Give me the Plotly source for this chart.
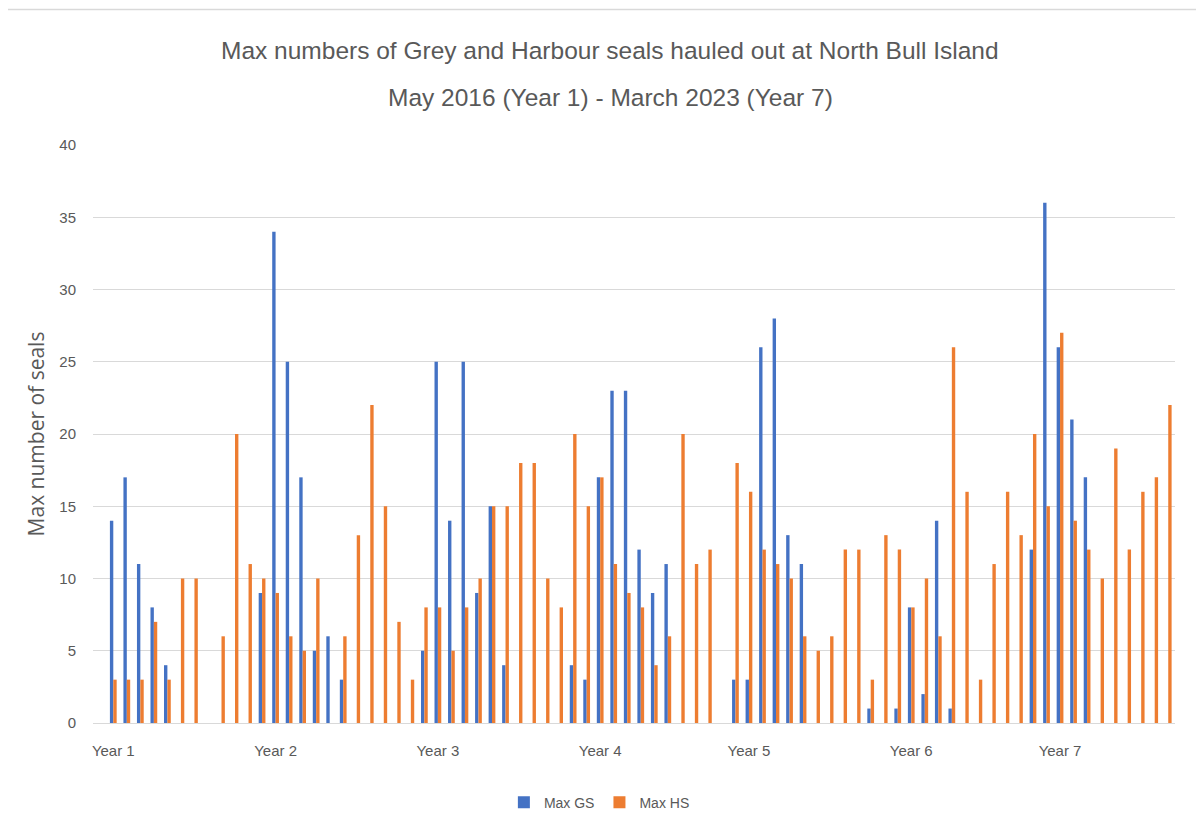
import plotly.graph_objects as go

# 80 monthly slots (first slot empty), May 2016 .. March 2023
slots = list(range(80))

max_gs = [None,
          14, 17, 11, 8, 4, None, None, None, None, None, None, 9,
          34, 25, 17, 5, 6, 3, None, None, None, None, None, 5,
          25, 14, 25, 9, 15, 4, None, None, None, None, 4, 3,
          17, 23, 23, 12, 9, 11, None, None, None, None, 3,
          3, 26, 28, 13, 11, None, None, None, None, 1, None, 1,
          8, 2, 14, 1, None, None, None, None, None, 12,
          36, 26, 21, 17, None, None, None, None, None]

max_hs = [None,
          3, 3, 3, 7, 3, 10, 10, None, 6, 20, 11, 10,
          9, 6, 5, 10, None, 6, 13, 22, 15, 7, 3, 8,
          8, 5, 8, 10, 15, 15, 18, 18, 10, 8, 20, 15,
          17, 11, 9, 8, 4, 6, 20, 11, 12, None, 18,
          16, 12, 11, 10, 6, 5, 6, 12, 12, 3, 13, 12,
          8, 10, 6, 26, 16, 3, 11, 16, 13, 20, 15,
          27, 14, 12, 10, 19, 12, 16, 17, 22]

year_slots = [1, 13, 25, 37, 48, 60, 71]
year_labels = ["Year 1", "Year 2", "Year 3", "Year 4", "Year 5", "Year 6", "Year 7"]

title_lines = ["Max numbers of Grey and Harbour seals hauled out at North Bull Island",
               "May 2016 (Year 1) - March 2023 (Year 7)"]

TXT = "#595959"
GRID = "#D9D9D9"

W, H = 1188, 812
L, R, T, B = 85, 21, 137, 97
plot_w = W - L - R
plot_h = H - T - B

fig = go.Figure()
fig.add_trace(go.Bar(x=slots, y=max_gs, name="Max GS", marker=dict(color="#4472C4", line=dict(width=0))))
fig.add_trace(go.Bar(x=slots, y=max_hs, name="Max HS", marker=dict(color="#ED7D31", line=dict(width=0))))

annotations = []
for line, ypix in zip(title_lines, [42, 89]):
    annotations.append(dict(text=line, xref="paper", yref="paper", x=(602 - L) / plot_w, xanchor="center",
                            y=1 + (T - ypix) / plot_h, yanchor="middle", showarrow=False,
                            font=dict(family="Liberation Sans, Arial", size=24.5, color=TXT)))

fig.update_layout(
    width=W, height=H,
    paper_bgcolor="white", plot_bgcolor="white",
    margin=dict(l=L, r=R, t=T, b=B, autoexpand=False),
    barmode="group", bargap=0.5, bargroupgap=0,
    font=dict(family="Liberation Sans, Arial", color=TXT, size=14),
    showlegend=True,
    legend=dict(orientation="h", x=0.468, xanchor="center", y=-0.110, yanchor="top",
                font=dict(size=14, color=TXT), itemwidth=30),
    annotations=annotations,
    shapes=[dict(type="line", xref="paper", yref="paper", x0=-L / plot_w, x1=1.02,
                 y0=1 + (T - 1.5) / plot_h, y1=1 + (T - 1.5) / plot_h,
                 line=dict(color="#D9D9D9", width=1.5))],
)

fig.update_xaxes(range=[-0.5, 79.5], tickmode="array", tickvals=year_slots, ticktext=year_labels,
                 showgrid=False, showline=True, linecolor=GRID, linewidth=1, zeroline=False,
                 ticks="", ticklabelstandoff=14, tickfont=dict(size=15, color=TXT), automargin=False)
fig.update_yaxes(range=[0, 40], dtick=5, showgrid=True, gridcolor=GRID, gridwidth=1,
                 zeroline=False, showline=False, ticks="", ticklabelstandoff=16,
                 tickfont=dict(size=15, color=TXT), automargin=False,
                 title=dict(text="Max number of seals", font=dict(family="Open Sans", size=21, color=TXT),
                            standoff=8))

fig.write_html("out.html")
